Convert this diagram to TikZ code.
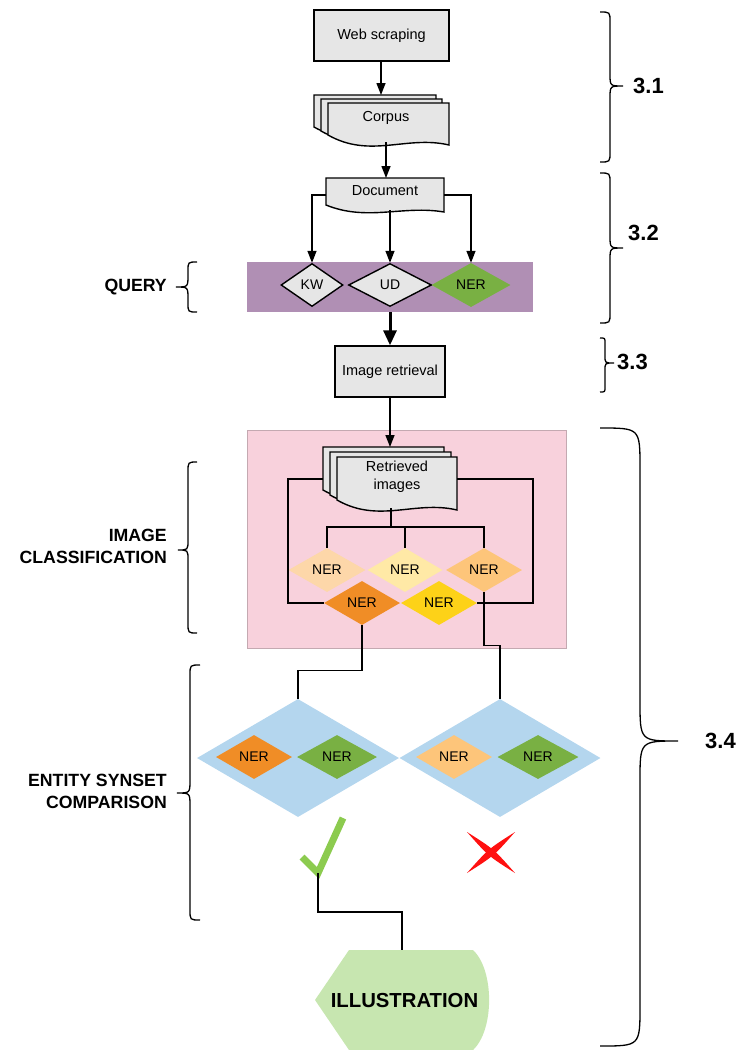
\documentclass[tikz,border=0pt]{standalone}
\usepackage{fontspec}
\setmainfont{Liberation Sans}
\usetikzlibrary{arrows.meta,shapes.geometric}
\definecolor{boxgray}{HTML}{E6E6E6}
\definecolor{purp}{HTML}{B08FB4}
\definecolor{pinkbg}{HTML}{F8D1DC}
\definecolor{pinkedge}{HTML}{C4A9B1}
\definecolor{nerA}{HTML}{FDD7A9}
\definecolor{nerB}{HTML}{FFE9A6}
\definecolor{nerC}{HTML}{FDC57A}
\definecolor{nerD}{HTML}{F08D26}
\definecolor{nerE}{HTML}{FDD218}
\definecolor{nerG}{HTML}{79B043}
\definecolor{lblue}{HTML}{B4D6EE}
\definecolor{illgreen}{HTML}{C7E6B0}
\definecolor{chkgreen}{HTML}{8CCB4F}
\definecolor{xred}{HTML}{FF1010}
% document shape: style, L, T, R, B(right bottom), wave depth
\newcommand\docshape[6]{%
 \path[#1] (#2,#3) -- (#4,#3) -- (#4,#5) .. controls ({#2+0.65*(#4-#2)},{#5-#6}) and ({#2+0.35*(#4-#2)},{#5+1.4*#6}) .. (#2,{#5-#6}) -- cycle;}
% brace: x0 x1 x2 y0 yt y1 r r2
\newcommand\brc[8]{%
 \draw[brace] (#1,#4) .. controls (#2,#4) .. (#2,{#4+#7}) -- (#2,{#5-#8}) .. controls (#2,#5) .. (#3,#5) .. controls (#2,#5) .. (#2,{#5+#8}) -- (#2,{#6-#7}) .. controls (#2,#6) .. (#1,#6);}
\begin{document}
\begin{tikzpicture}[x=1pt,y=-1pt,
  conn/.style={line width=1.4pt},
  arr/.style={conn,-{Triangle[length=12pt,width=9pt]}},
  bigarr/.style={line width=3pt,-{Triangle[length=15pt,width=13pt]}},
  box/.style={draw,line width=1.4pt,fill=boxgray,inner sep=0pt,font=\fontsize{14.5}{17}\selectfont},
  docst/.style={draw,line width=1.4pt,fill=boxgray},
  txt/.style={font=\fontsize{14.5}{17}\selectfont,align=center,inner sep=0pt},
  dia/.style={diamond,inner sep=0pt,font=\fontsize{14}{16}\selectfont},
  lbl/.style={font=\bfseries\fontsize{17.7}{22}\selectfont,align=right,anchor=east,inner sep=0pt},
  sec/.style={font=\bfseries\fontsize{22}{26}\selectfont,anchor=west,inner sep=0pt},
  brace/.style={line width=1.3pt},
]
\useasboundingbox (0,0) rectangle (742,1050);

% ---------- backgrounds ----------
\path[fill=pinkbg,draw=pinkedge,line width=0.8pt] (247,430) rectangle (566,648);
\path[fill=purp] (247,262) rectangle (533,312);

% ---------- top boxes ----------
\node[box,minimum width=135,minimum height=51] (web) at (381.5,35.5) {Web scraping};

\docshape{docst}{314}{95}{436}{137}{10}
\docshape{docst}{321}{99}{442}{141}{10}
\docshape{docst}{328}{103}{449}{145}{10}
\node[txt] (corpus) at (386,118) {Corpus};
\coordinate (corpusT) at (381,95);
\coordinate (corpusB) at (386,142);

\docshape{docst}{326}{178}{444}{212}{7}
\node[txt] (document) at (385,191) {Document};
\coordinate (docT) at (386,178);
\coordinate (docL) at (326,195);
\coordinate (docR) at (444,195);
\coordinate (docB) at (390,210);

\draw[arr] (web.south -| corpusT) -- (corpusT);
\draw[arr] (corpusB) -- (docT);

% ---------- query ----------
\node[dia,draw,line width=1.4pt,fill=boxgray,minimum width=62,minimum height=43] (kw) at (312,285) {KW};
\node[dia,draw,line width=1.4pt,fill=boxgray,minimum width=83,minimum height=43] (ud) at (390,285) {UD};
\node[dia,fill=nerG,minimum width=79,minimum height=44] (nerq) at (471,285) {NER};

\draw[arr] (docL) -| (kw.north);
\draw[arr] (docR) -| (nerq.north);
\draw[arr] (docB) -- (ud.north);

\coordinate (purpB) at (390,312);
\node[box,minimum width=110,minimum height=51] (imgret) at (390,371.5) {Image retrieval};
\draw[bigarr] (purpB) -- (imgret.north);

% ---------- retrieved images ----------
\docshape{docst}{323}{447}{444}{500}{10}
\docshape{docst}{330}{452}{451}{505}{10}
\docshape{docst}{337}{457}{457}{510}{10}
\node[txt] (rimg) at (397,477) {Retrieved\\[1pt]images};
\coordinate (rimgT) at (390,447);
\coordinate (rimgL) at (323,479);
\coordinate (rimgR) at (457,479);
\coordinate (rimgB) at (391,508);
\draw[arr] (imgret.south) -- (rimgT);

\node[dia,fill=nerA,minimum width=77,minimum height=44] (ner1) at (327,570) {NER};
\node[dia,fill=nerB,minimum width=75,minimum height=44] (ner2) at (405,570) {NER};
\node[dia,fill=nerC,minimum width=76,minimum height=44] (ner3) at (484,570) {NER};
\node[dia,fill=nerD,minimum width=76,minimum height=44] (ner4) at (362,603) {NER};
\node[dia,fill=nerE,minimum width=76,minimum height=44] (ner5) at (439,603) {NER};

\draw[conn] (rimgB) -- (391,527) coordinate (split);
\draw[conn] (ner1.north) -- (ner1.north |- split) -- (ner3.north |- split) -- (ner3.north);
\draw[conn] (ner2.north) -- (ner2.north |- split);
\draw[conn] (rimgL) -- (288,479) |- (ner4.west);
\draw[conn] (rimgR) -- (533,479) |- (ner5.east);

% ---------- entity synset comparison ----------
\node[dia,fill=lblue,minimum width=202,minimum height=118] (d1) at (298,758) {};
\node[dia,fill=lblue,minimum width=201,minimum height=118] (d2) at (500,758) {};
\node[dia,fill=nerD,minimum width=76,minimum height=44] (e1) at (254,757) {NER};
\node[dia,fill=nerG,minimum width=80,minimum height=44] (e2) at (337,757) {NER};
\node[dia,fill=nerC,minimum width=76,minimum height=44] (e3) at (454,757) {NER};
\node[dia,fill=nerG,minimum width=81,minimum height=44] (e4) at (538,757) {NER};

\draw[conn] (ner4.south) -- ++(0,45) -| (d1.north);
\draw[conn] (ner3.south) -- ++(0,53) -| (d2.north);

% check mark
\draw[chkgreen,line width=7pt,line join=miter,miter limit=4] (302,857) -- (318,873) -- (343,818);
\coordinate (chk) at (318,873);
% red cross
\fill[xred] (467,832) .. controls (493.9,849.1) .. (515,873) .. controls (488.1,855.9) .. cycle;
\fill[xred] (515,832) .. controls (493.9,855.9) .. (467,873) .. controls (488.1,849.1) .. cycle;

% ---------- illustration ----------
\path[fill=illgreen] (315,1000) -- (349,950) -- (473,950) .. controls (494.5,970) and (494.5,1030) .. (473,1050) -- (349,1050) -- cycle;
\node[font=\bfseries\fontsize{20.3}{24}\selectfont,inner sep=0pt] (illus) at (404.5,1000) {ILLUSTRATION};
\coordinate (illT) at (402,950);
\draw[conn] (chk) -- (318,912) -| (illT);

% ---------- left labels and braces ----------
\node[lbl] (lq) at (167,287) {QUERY};
\node[lbl] (lic) at (167,546) {IMAGE\\CLASSIFICATION};
\node[lbl] (les) at (167,791) {ENTITY SYNSET\\COMPARISON};
\brc{197}{188}{176}{262}{287}{312}{9}{12}
\brc{197}{188}{178}{462}{550}{633}{10}{10}
\brc{200}{190}{177}{665}{793}{920}{10}{13}

% ---------- right braces ----------
\brc{600}{610}{623}{12}{86}{162}{10}{12}
\brc{600}{610}{623}{173}{248}{323}{10}{12}
\brc{600}{605}{614}{338}{363}{392}{5}{7}
\brc{600}{640}{678}{428}{741}{1046}{40}{40}
\node[sec] (s1) at (633,86) {3.1};
\node[sec] (s2) at (628,233) {3.2};
\node[sec] (s3) at (617,362) {3.3};
\node[sec] (s4) at (705,741) {3.4};
\end{tikzpicture}
\end{document}
